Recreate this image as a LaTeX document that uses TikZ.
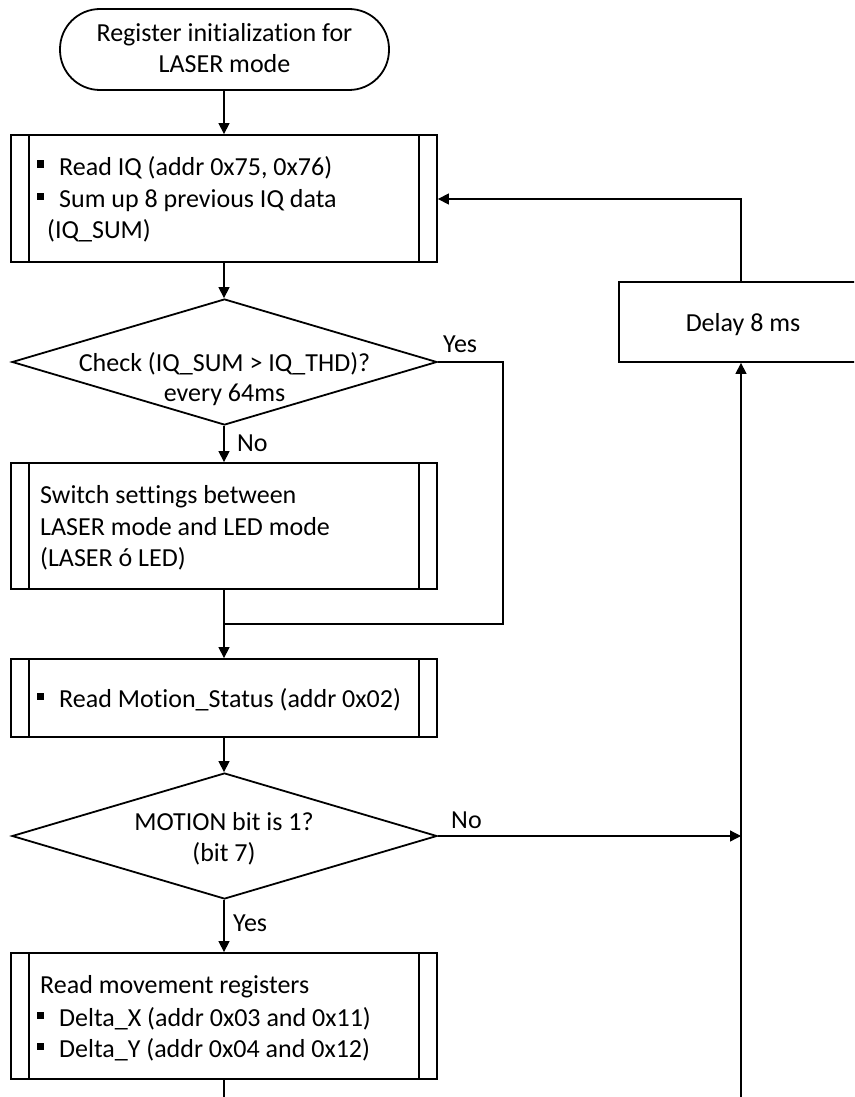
\documentclass[tikz,border=0pt]{standalone}
\usepackage{fontspec}
\setmainfont{Carlito}[Ligatures={NoCommon}]
\usetikzlibrary{shapes.geometric,arrows.meta}
\newcommand{\bul}{\rule[7.5pt]{7pt}{7pt}\hspace{15pt}}
\begin{document}
\begin{tikzpicture}[x=1pt,y=-1pt,
  shp/.style={draw,line width=1.8pt,inner sep=0pt},
  proc/.style={shp,rectangle,minimum width=426pt,
    path picture={\draw[line width=1.8pt]
      ([xshift=18pt]path picture bounding box.north west) -- ([xshift=18pt]path picture bounding box.south west)
      ([xshift=-18pt]path picture bounding box.north east) -- ([xshift=-18pt]path picture bounding box.south east);}},
  dec/.style={shp,diamond,minimum width=425pt,minimum height=126pt},
  txt/.style={inner sep=0pt,font=\fontsize{26}{31}\selectfont,anchor=base west},
  ctxt/.style={inner sep=0pt,font=\fontsize{26}{31}\selectfont,anchor=base},
  con/.style={line width=1.3pt},
  arr/.style={con,-{Triangle[length=11pt,width=11pt]}}]
\useasboundingbox (0,0) rectangle (854,1097);
\clip (0,0) rectangle (854,1097);
\fill[white] (0,0) rectangle (854,1097);

% shapes
\node[shp,rectangle,rounded corners=40pt,minimum width=329pt,minimum height=81pt] (term) at (224.5,49.5) {};
\node[proc,minimum height=127pt] (b1) at (224,198.5) {};
\node[dec] (d1) at (224.5,362) {};
\node[proc,minimum height=126pt] (b2) at (224,526) {};
\node[proc,minimum height=78pt] (b3) at (224,698) {};
\node[dec] (d2) at (224.5,836) {};
\node[proc,minimum height=126pt] (b4) at (224,1016) {};
\node[shp,rectangle,minimum width=281pt,minimum height=80pt] (delay) at (759.5,322) {};

% texts
\node[ctxt] (t0a) at (224.5,41.7) {Register initialization for};
\node[ctxt] (t0b) at (224.5,72.7) {LASER mode};
\node[txt] (t1a) at (37,175) {\bul Read IQ (addr 0x75, 0x76)};
\node[txt] (t1b) at (37,207) {\bul Sum up 8 previous IQ data};
\node[txt] (t1c) at (47,238) {(IQ\_SUM)};
\node[ctxt] (t2a) at (224.5,371) {Check (IQ\_SUM > IQ\_THD)?};
\node[ctxt] (t2b) at (224.5,401) {every 64ms};
\node[txt] (t3a) at (40,503) {Switch settings between};
\node[txt] (t3b) at (40,535) {LASER mode and LED mode};
\node[txt] (t3c) at (40,566) {(LASER ó LED)};
\node[txt] (t4a) at (37,707) {\bul Read Motion\_Status (addr 0x02)};
\node[ctxt] (t5a) at (224,830) {MOTION bit is 1?};
\node[ctxt] (t5b) at (224,861) {(bit 7)};
\node[txt] (t6a) at (40,993) {Read movement registers};
\node[txt] (t6b) at (37,1026) {\bul Delta\_X (addr 0x03 and 0x11)};
\node[txt] (t6c) at (37,1057) {\bul Delta\_Y (addr 0x04 and 0x12)};
\node[ctxt] (t7a) at (743,331) {Delay 8 ms};

% labels
\node[txt] (lyes1) at (443,352) {Yes};
\node[txt] (lno1) at (237,451) {No};
\node[txt] (lno2) at (451,828) {No};
\node[txt] (lyes2) at (233,931) {Yes};

% helper coordinates
\coordinate (yr) at (503,362);
\coordinate (merge) at (224,624);
\coordinate (vr) at (741,836);
\coordinate (bot) at (224,1097);
\coordinate (rbot) at (741,1097);
\coordinate (rtop) at (741,199);

% connectors
\draw[arr] (term.south -| b1.north) -- (b1.north);
\draw[arr] (b1.south) -- (b1.south |- d1.north);
\draw[arr] (d1.south -| b2.north) -- (b2.north);
\draw[con] (d1.east) -- (yr) |- (merge);
\draw[arr] (b2.south) -- (b3.north);
\draw[arr] (b3.south) -- (b3.south |- d2.north);
\draw[arr] (d2.east) -- (vr);
\draw[arr] (d2.south -| b4.north) -- (b4.north);
\draw[con] (b4.south) -- (bot);
\draw[arr] (rbot) -- (rbot |- delay.south);
\draw[arr] (rtop |- delay.north) -- (rtop) -- (rtop -| b1.east);
\end{tikzpicture}
\end{document}
